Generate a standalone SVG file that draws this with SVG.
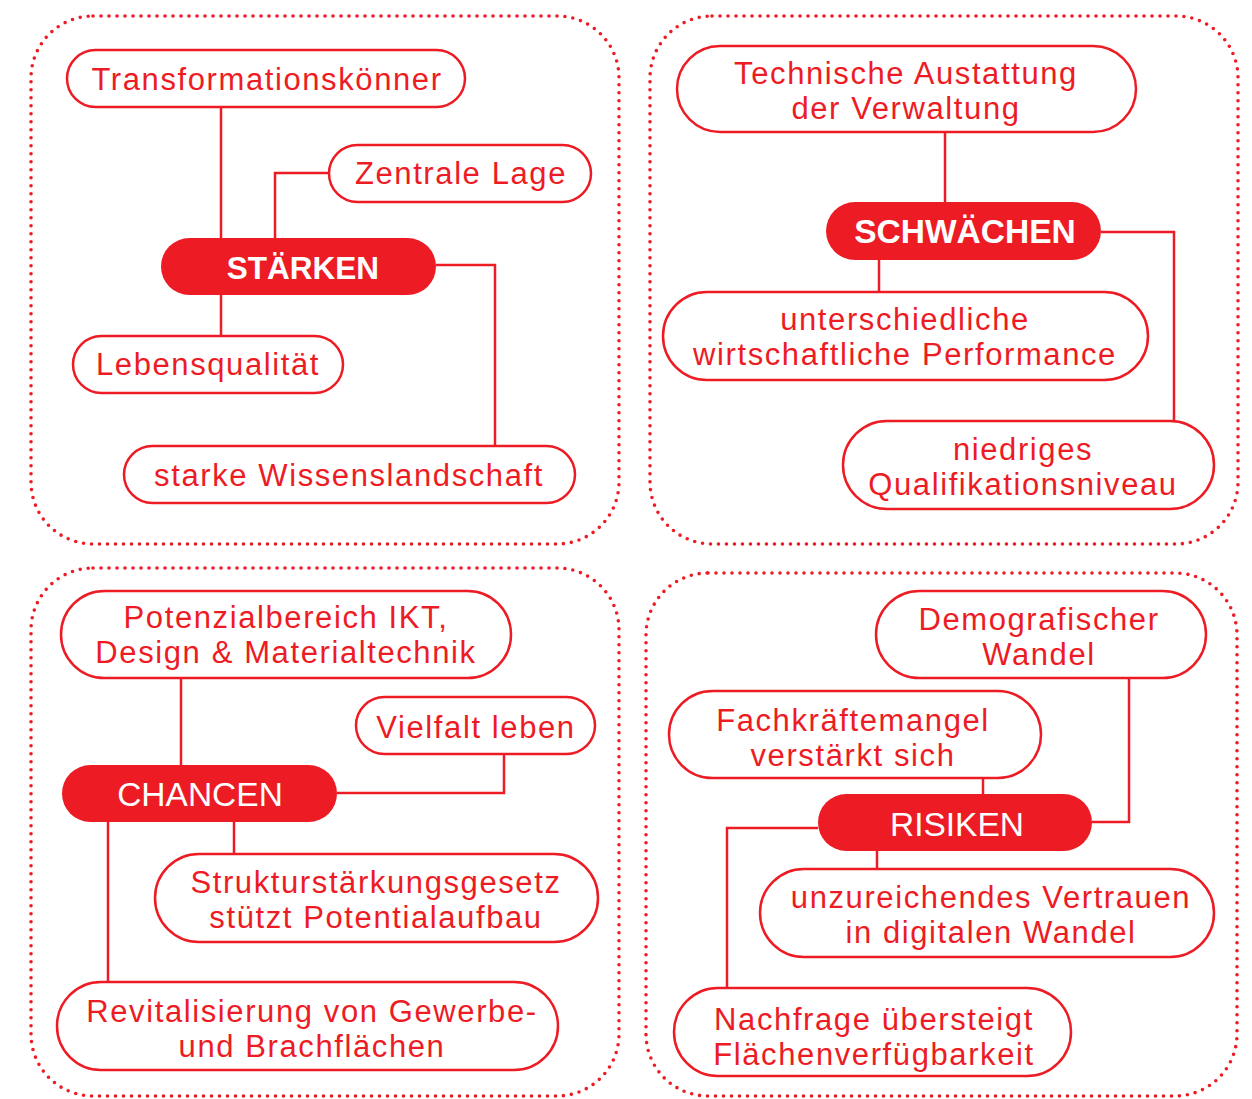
<svg xmlns="http://www.w3.org/2000/svg" width="1252" height="1099" viewBox="0 0 1252 1099">
<style>
.panel{fill:none;stroke:#ED1C24;stroke-width:3.6;stroke-dasharray:0 8;stroke-linecap:round}
.node{fill:#fff;stroke:#ED1C24;stroke-width:2.5}
.hub{fill:#ED1C24;stroke:none}
.t{font-family:"Liberation Sans",Arial,sans-serif;font-size:31px;letter-spacing:1.6px;fill:#ED1C24;text-anchor:middle}
.h{font-family:"Liberation Sans",Arial,sans-serif;font-size:33.5px;fill:#fff;text-anchor:middle}
.b{font-weight:bold}
.c{fill:none;stroke:#ED1C24;stroke-width:2.5}
</style>
<rect width="1252" height="1099" fill="#fff"/>
<g id="panels">
<rect class="panel" x="31" y="16" width="588" height="528" rx="62"/>
<rect class="panel" x="650" y="16" width="588" height="528" rx="62"/>
<rect class="panel" x="31" y="568" width="588" height="528" rx="62"/>
<rect class="panel" x="646" y="573" width="591" height="523" rx="62"/>
</g>
<g id="connectors">
<path class="c" d="M221 107V238M275 238V173H329M436 265H495V446M221 295V336"/>
<path class="c" d="M945 132V202M879 260V292M1101 232H1174V421"/>
<path class="c" d="M181 678V765M337 793H504V754M234 822V854M108 822V982"/>
<path class="c" d="M983 778V794M1092 822H1129V678M818 828H727V988M877 851V869"/>
</g>
<g id="n-transformation"><rect class="node" x="67" y="50" width="398" height="57" rx="28.5"/><text class="t" x="267" y="90">Transformationskönner</text></g>
<g id="n-zentrale"><rect class="node" x="329" y="145" width="262" height="57" rx="28.5"/><text class="t" x="461" y="184">Zentrale Lage</text></g>
<g id="n-staerken"><rect class="hub" x="161" y="238" width="275" height="57" rx="28.5"/><text class="h b" x="303" y="279" style="font-size:31.5px">STÄRKEN</text></g>
<g id="n-leben"><rect class="node" x="73" y="336" width="270" height="57" rx="28.5"/><text class="t" x="208" y="375">Lebensqualität</text></g>
<g id="n-wissen"><rect class="node" x="124" y="446" width="451" height="57" rx="28.5"/><text class="t" x="349" y="486">starke Wissenslandschaft</text></g>

<g id="n-technik"><rect class="node" x="677" y="46" width="459" height="86" rx="43"/><text class="t" x="906" y="84">Technische Austattung</text><text class="t" x="906" y="119">der Verwaltung</text></g>
<g id="n-schwaechen"><rect class="hub" x="826" y="202" width="275" height="58" rx="29"/><text class="h b" x="965" y="243">SCHWÄCHEN</text></g>
<g id="n-performance"><rect class="node" x="663" y="292" width="485" height="88" rx="44"/><text class="t" x="905" y="330">unterschiedliche</text><text class="t" x="905" y="365">wirtschaftliche Performance</text></g>
<g id="n-qualifikation"><rect class="node" x="843" y="421" width="371" height="88" rx="44"/><text class="t" x="1023" y="460">niedriges</text><text class="t" x="1023" y="495">Qualifikationsniveau</text></g>

<g id="n-ikt"><rect class="node" x="61" y="591" width="450" height="87" rx="43.5"/><text class="t" x="286" y="628">Potenzialbereich IKT,</text><text class="t" x="286" y="663">Design &amp; Materialtechnik</text></g>
<g id="n-vielfalt"><rect class="node" x="356" y="697" width="239" height="57" rx="28.5"/><text class="t" x="476" y="738">Vielfalt leben</text></g>
<g id="n-chancen"><rect class="hub" x="62" y="765" width="275" height="57" rx="28.5"/><text class="h" x="200" y="806">CHANCEN</text></g>
<g id="n-struktur"><rect class="node" x="155" y="854" width="443" height="88" rx="44"/><text class="t" x="376" y="893">Strukturstärkungsgesetz</text><text class="t" x="376" y="928">stützt Potentialaufbau</text></g>
<g id="n-revital"><rect class="node" x="57" y="982" width="501" height="88" rx="44"/><text class="t" x="312" y="1022">Revitalisierung von Gewerbe-</text><text class="t" x="312" y="1057">und Brachflächen</text></g>

<g id="n-demografie"><rect class="node" x="876" y="591" width="330" height="87" rx="43.5"/><text class="t" x="1039" y="630">Demografischer</text><text class="t" x="1039" y="665">Wandel</text></g>
<g id="n-fachkraft"><rect class="node" x="669" y="691" width="372" height="87" rx="43.5"/><text class="t" x="853" y="731">Fachkräftemangel</text><text class="t" x="853" y="766">verstärkt sich</text></g>
<g id="n-risiken"><rect class="hub" x="818" y="794" width="274" height="57" rx="28.5"/><text class="h" x="957" y="836">RISIKEN</text></g>
<g id="n-vertrauen"><rect class="node" x="760" y="869" width="454" height="88" rx="44"/><text class="t" x="991" y="908">unzureichendes Vertrauen</text><text class="t" x="991" y="943">in digitalen Wandel</text></g>
<g id="n-nachfrage"><rect class="node" x="674" y="988" width="397" height="88" rx="44"/><text class="t" x="874" y="1030">Nachfrage übersteigt</text><text class="t" x="874" y="1065">Flächenverfügbarkeit</text></g>
</svg>
